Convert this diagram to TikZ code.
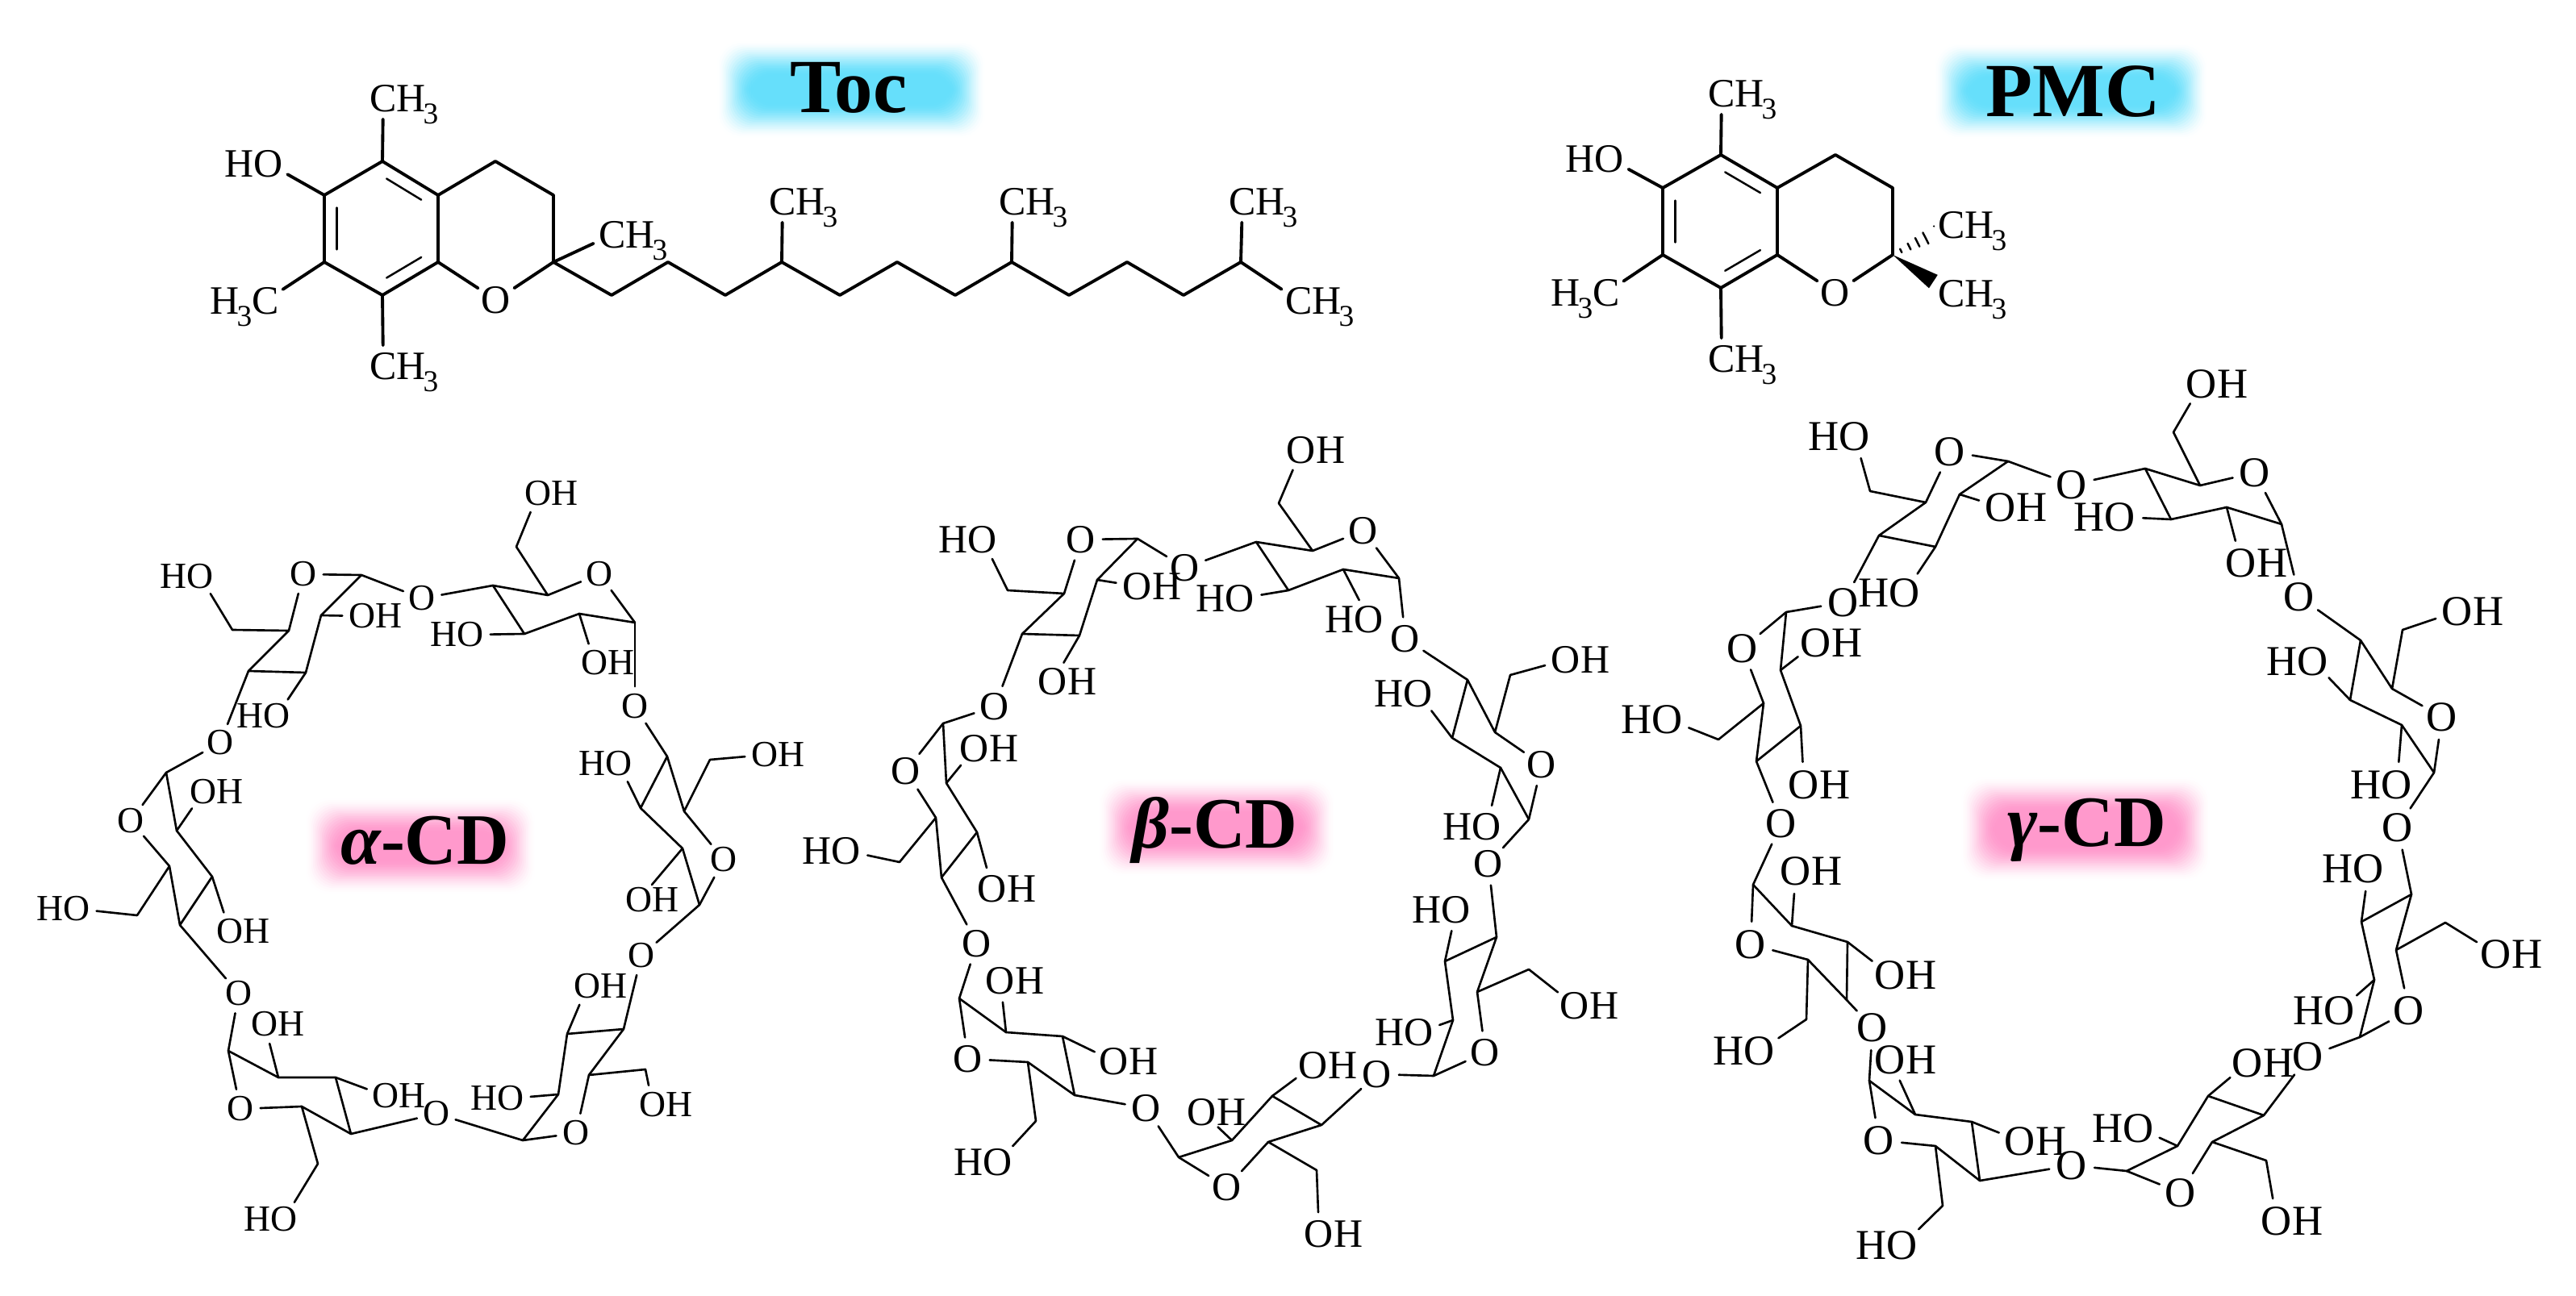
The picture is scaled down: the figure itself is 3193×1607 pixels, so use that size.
\documentclass[tikz,border=0pt]{standalone}
\usepackage{fontspec}
\setmainfont{Liberation Serif}
\usetikzlibrary{calc}
\definecolor{glowcyan}{HTML}{66DFFB}
\definecolor{glowpink}{HTML}{FF99CC}
\tikzset{
  bond/.style={line width=.75pt,line cap=round,line join=round},
  fatbond/.style={line width=1.1pt,line cap=round,line join=round},
  innerline/.style={line width=.7pt,line cap=round},
  atom/.style={circle,inner sep=.3pt},
  bigtitle/.style={anchor=base,inner sep=0pt,font=\fontsize{27}{27}\selectfont\bfseries},
  cdtitle/.style={anchor=base,inner sep=0pt,font=\fontsize{25.5}{26}\selectfont\bfseries}
}
\newcommand{\subthree}{\kern-.06em\smash{\raisebox{-.3em}{\scalebox{.75}{3}}}}
\newcommand{\methyl}{C\rlap{H\subthree}}
\newcommand{\methylleft}{\llap{H\subthree}C}
\newcommand{\glucose}[8]{%
  \coordinate (#1c1) at (#2);
  \coordinate (#1c2) at (#3);
  \coordinate (#1c3) at (#4);
  \coordinate (#1c4) at (#5);
  \coordinate (#1c5) at (#6);
  \coordinate (#1c6) at (#7);
  \node[atom] (#1o) at (#8) {O};
  \draw[bond] (#1c1) -- (#1c2) -- (#1c3) -- (#1c4) -- (#1c5) -- (#1c6);
  \draw[bond] (#1c5) -- (#1o);
  \draw[bond] (#1o) -- (#1c1);
}
\newcommand{\OHright}[2]{%
  \node[atom] (#1oh) at (#2) {O\rlap{H}};
  \draw[bond] (#1) -- (#1oh);
}
\newcommand{\HOleft}[2]{%
  \node[atom] (#1oh) at (#2) {\llap{H}O};
  \draw[bond] (#1) -- (#1oh);
}
\newcommand{\bridge}[4]{%
  \node[atom] (#1) at (#2) {O};
  \draw[bond] (#3) -- (#1);
  \draw[bond] (#1) -- (#4);
}
\newcommand{\innerbond}[3]{%
  \draw[innerline] ($(#1)!.1!(#2)!.22!(#3)$) -- ($(#2)!.1!(#1)!.22!(#3)$);
}
\newcommand{\glow}[5]{%
  \foreach \g in {0,...,20}{%
    \pgfmathsetmacro{\glowt}{\g/20}
    \pgfmathsetmacro{\glowp}{100*(3*\glowt*\glowt-2*\glowt*\glowt*\glowt)}
    \fill[#1!\glowp!white,rounded corners=8pt] (#2-#4+2.2*\g,#3-#5+2.2*\g) rectangle (#2+#4-2.2*\g,#3+#5-2.2*\g);
  }
}
\begin{document}
\begin{tikzpicture}[x=.01cm,y=-.01cm]
\useasboundingbox (0,0) rectangle (3193,1607);
\glow{glowcyan}{1055}{111}{168}{62}
\glow{glowcyan}{2567}{113}{171}{61}
\glow{glowpink}{521}{1049}{144}{61}
\glow{glowpink}{1508}{1026}{148}{62}
\glow{glowpink}{2585}{1028}{156}{66}
\node[bigtitle] (toc) at (1052,140) {Toc};
\node[bigtitle] (pmc) at (2570,145) {PMC};
\node[cdtitle] (alpha) at (527,1072) {{\itshape α}-CD};
\node[cdtitle] (beta) at (1506,1052) {{\itshape β}-CD};
\node[cdtitle] (gamma) at (2587,1050) {{\itshape γ}-CD};

\begin{scope}[every node/.style={font=\fontsize{14.2}{16}\selectfont}]
\foreach \n/\x/\y in {a/474/200,b/543/242,c/543/325,d/474/366,e/402/325,f/402/242,g/614/200,h/686/242,i/686/325,j/758/366,k/828/325,l/899/366,m/969/325,n/1041/366,o/1112/325,p/1184/366,q/1254/325,r/1325/366,s/1397/325,t/1467/366,u/1538/325,cen/473/283}
  \coordinate (t\n) at (\x,\y);
\node[atom] (tox) at (615,372) {O};
\node[atom] (tho) at (333,203) {\llap{H}O};
\node[atom] (tme1) at (475,122) {\methyl};
\node[atom] (tme2) at (329,373) {\methylleft};
\node[atom] (tme3) at (475,454) {\methyl};
\node[atom] (tme4) at (759,291) {\methyl};
\node[atom] (tme5) at (970,250) {\methyl};
\node[atom] (tme6) at (1255,250) {\methyl};
\node[atom] (tme7) at (1540,250) {\methyl};
\node[atom] (tme8) at (1610,373) {\methyl};
\draw[fatbond] (ta) -- (tb) -- (tc) -- (td) -- (te) -- (tf) -- cycle;
\draw[fatbond] (tb) -- (tg) -- (th) -- (ti) -- (tj) -- (tk) -- (tl) -- (tm) -- (tn) -- (to) -- (tp) -- (tq) -- (tr) -- (ts) -- (tt) -- (tu);
\draw[fatbond] (tc) -- (tox);
\draw[fatbond] (tox) -- (ti);
\draw[fatbond] (tf) -- (tho);
\draw[fatbond] (ta) -- (tme1);
\draw[fatbond] (te) -- (tme2);
\draw[fatbond] (td) -- (tme3);
\draw[fatbond] (ti) -- (tme4);
\draw[fatbond] (tm) -- (tme5);
\draw[fatbond] (tq) -- (tme6);
\draw[fatbond] (tu) -- (tme7);
\draw[fatbond] (tu) -- (tme8);
\innerbond{ta}{tb}{tcen}
\innerbond{tc}{td}{tcen}
\innerbond{te}{tf}{tcen}

\foreach \n/\x/\y in {a/2133/192,b/2203/233,c/2203/316,d/2133/357,e/2061/316,f/2061/233,g/2275/192,h/2346/233,i/2346/316,cen/2132/275}
  \coordinate (p\n) at (\x,\y);
\node[atom] (pox) at (2275,363) {O};
\node[atom] (pho) at (1995,197) {\llap{H}O};
\node[atom] (pme1) at (2134,116) {\methyl};
\node[atom] (pme2) at (1991,363) {\methylleft};
\node[atom] (pme3) at (2134,445) {\methyl};
\node[atom] (pme4) at (2419,279) {\methyl};
\node[atom] (pme5) at (2419,364) {\methyl};
\draw[fatbond] (pa) -- (pb) -- (pc) -- (pd) -- (pe) -- (pf) -- cycle;
\draw[fatbond] (pb) -- (pg) -- (ph) -- (pi);
\draw[fatbond] (pc) -- (pox);
\draw[fatbond] (pox) -- (pi);
\draw[fatbond] (pf) -- (pho);
\draw[fatbond] (pa) -- (pme1);
\draw[fatbond] (pe) -- (pme2);
\draw[fatbond] (pd) -- (pme3);
\innerbond{pa}{pb}{pcen}
\innerbond{pc}{pd}{pcen}
\innerbond{pe}{pf}{pcen}
\coordinate (pwedge) at ($(pi)!.69!(pme5)$);
\coordinate (phash) at ($(pi)!.7!(pme4)$);
\fill (pi) -- ($(pwedge)!2.8pt!90:(pi)$) -- ($(pwedge)!2.8pt!-90:(pi)$) -- cycle;
\foreach \s/\halflen in {.2/.7pt,.4/1.2pt,.6/1.7pt,.8/2.2pt,1/2.7pt}
  \draw[innerline] ($(pi)!\s!(phash)!\halflen!90:(phash)$) -- ($(pi)!\s!(phash)!\halflen!-90:(phash)$);
\end{scope}

\begin{scope}[every node/.style={font=\fontsize{13}{15}\selectfont}]
\glucose{a1}{448,713}{398,763}{379,834}{308,832}{358,782}{288,781}{376,712}
\OHright{a1c2}{449,764} \HOleft{a1c3}{343,888} \HOleft{a1c6}{248,715}
\glucose{a2}{206,958}{219,1030}{263,1087}{223,1147}{210,1074}{170,1135}{162,1018}
\OHright{a2c2}{252,982} \OHright{a2c3}{285,1155} \HOleft{a2c6}{95,1127}
\glucose{a3}{283,1303}{345,1336}{416,1336}{435,1406}{374,1372}{394,1443}{298,1375}
\OHright{a3c2}{328,1270} \OHright{a3c3}{478,1359} \HOleft{a3c6}{352,1512}
\glucose{a4}{648,1414}{692,1357}{703,1282}{773,1276}{730,1333}{800,1326}{714,1405}
\HOleft{a4c2}{633,1362} \OHright{a4c3}{728,1223} \OHright{a4c6}{809,1370}
\glucose{a5}{867,1122}{846,1052}{794,1002}{827,938}{848,1006}{880,942}{897,1066}
\OHright{a5c2}{792,1116} \HOleft{a5c3}{767,947} \OHright{a5c6}{948,936}
\glucose{a6}{787,772}{718,761}{650,786}{611,726}{679,738}{640,678}{743,712}
\OHright{a6c2}{737,822} \HOleft{a6c3}{583,787} \OHright{a6c6}{667,612}
\bridge{ab1}{523,742}{a1c1}{a6c4}
\bridge{ab2}{787,876}{a6c1}{a5c4}
\bridge{ab3}{795,1185}{a5c1}{a4c4}
\bridge{ab4}{541,1381}{a4c1}{a3c4}
\bridge{ab5}{296,1232}{a3c1}{a2c4}
\bridge{ab6}{273,921}{a2c1}{a1c4}
\end{scope}

\begin{scope}[every node/.style={font=\fontsize{14.2}{16}\selectfont}]
\glucose{b1}{1410,668}{1360,719}{1338,788}{1267,786}{1319,736}{1249,732}{1340,669}
\OHright{b1c2}{1410,727} \OHright{b1c3}{1305,845} \HOleft{b1c6}{1218,669}
\glucose{b2}{1734,717}{1665,706}{1597,732}{1557,672}{1627,683}{1585,624}{1690,658}
\HOleft{b2c2}{1697,768} \HOleft{b2c3}{1537,742} \OHright{b2c6}{1613,558}
\glucose{b3}{1895,1016}{1860,952}{1800,915}{1819,843}{1853,908}{1872,837}{1911,948}
\HOleft{b3c2}{1843,1025} \HOleft{b3c3}{1758,860} \OHright{b3c6}{1941,818}
\glucose{b4}{1777,1334}{1801,1265}{1791,1192}{1855,1162}{1831,1230}{1895,1202}{1841,1305}
\HOleft{b4c2}{1759,1280} \HOleft{b4c3}{1805,1128} \OHright{b4c6}{1952,1247}
\glucose{b5}{1461,1435}{1527,1414}{1577,1359}{1638,1395}{1572,1416}{1632,1451}{1521,1472}
\OHright{b5c2}{1490,1379} \OHright{b5c3}{1628,1321} \OHright{b5c6}{1635,1530}
\glucose{b6}{1189,1238}{1247,1280}{1317,1285}{1332,1358}{1274,1317}{1284,1390}{1200,1313}
\OHright{b6c2}{1240,1216} \OHright{b6c3}{1381,1316} \HOleft{b6c6}{1237,1441}
\glucose{b7}{1169,897}{1173,971}{1211,1032}{1167,1088}{1160,1014}{1115,1069}{1123,956}
\OHright{b7c2}{1208,928} \OHright{b7c3}{1230,1102} \HOleft{b7c6}{1049,1055}
\bridge{bb1}{1469,704}{b1c1}{b2c4}
\bridge{bb2}{1742,792}{b2c1}{b3c4}
\bridge{bb3}{1845,1071}{b3c1}{b4c4}
\bridge{bb4}{1707,1332}{b4c1}{b5c4}
\bridge{bb5}{1421,1374}{b5c1}{b6c4}
\bridge{bb6}{1211,1170}{b6c1}{b7c4}
\bridge{bb7}{1233,876}{b7c1}{b1c4}
\end{scope}

\begin{scope}[every node/.style={font=\fontsize{15}{17}\selectfont}]
\glucose{g1}{2489,572}{2429,613}{2399,678}{2329,664}{2387,623}{2318,609}{2417,560}
\OHright{g1c2}{2480,629} \HOleft{g1c3}{2361,735} \HOleft{g1c6}{2299,541}
\glucose{g2}{2214,759}{2207,831}{2232,900}{2177,944}{2186,872}{2130,917}{2160,804}
\OHright{g2c2}{2251,797} \OHright{g2c3}{2236,973} \HOleft{g2c6}{2067,892}
\glucose{g3}{2173,1097}{2221,1148}{2290,1168}{2289,1240}{2241,1190}{2239,1264}{2170,1171}
\OHright{g3c2}{2226,1080} \OHright{g3c3}{2343,1209} \HOleft{g3c6}{2181,1303}
\glucose{g4}{2317,1340}{2374,1382}{2444,1391}{2454,1464}{2399,1421}{2408,1495}{2329,1414}
\OHright{g4c2}{2343,1314} \OHright{g4c3}{2504,1415} \HOleft{g4c6}{2358,1544}
\glucose{g5}{2636,1452}{2699,1421}{2737,1359}{2806,1383}{2742,1416}{2809,1439}{2703,1479}
\HOleft{g5c2}{2651,1399} \OHright{g5c3}{2786,1318} \OHright{g5c6}{2822,1514}
\glucose{g6}{2925,1286}{2943,1215}{2927,1143}{2989,1109}{2970,1178}{3031,1144}{2986,1253}
\HOleft{g6c2}{2900,1253} \HOleft{g6c3}{2936,1077} \OHright{g6c6}{3094,1183}
\glucose{g7}{3017,958}{2977,899}{2913,868}{2926,794}{2965,854}{2978,781}{3027,889}
\HOleft{g7c2}{2971,973} \HOleft{g7c3}{2867,820} \OHright{g7c6}{3046,758}
\glucose{g8}{2828,650}{2760,629}{2691,644}{2659,581}{2727,602}{2694,536}{2795,586}
\OHright{g8c2}{2778,698} \HOleft{g8c3}{2628,641} \OHright{g8c6}{2729,476}
\bridge{gb1}{2568,601}{g1c1}{g8c4}
\bridge{gb2}{2850,740}{g8c1}{g7c4}
\bridge{gb3}{2972,1026}{g7c1}{g6c4}
\bridge{gb4}{2861,1310}{g6c1}{g5c4}
\bridge{gb5}{2568,1445}{g5c1}{g4c4}
\bridge{gb6}{2321,1274}{g4c1}{g3c4}
\bridge{gb7}{2208,1021}{g3c1}{g2c4}
\bridge{gb8}{2285,747}{g2c1}{g1c4}
\end{scope}
\end{tikzpicture}
\end{document}
